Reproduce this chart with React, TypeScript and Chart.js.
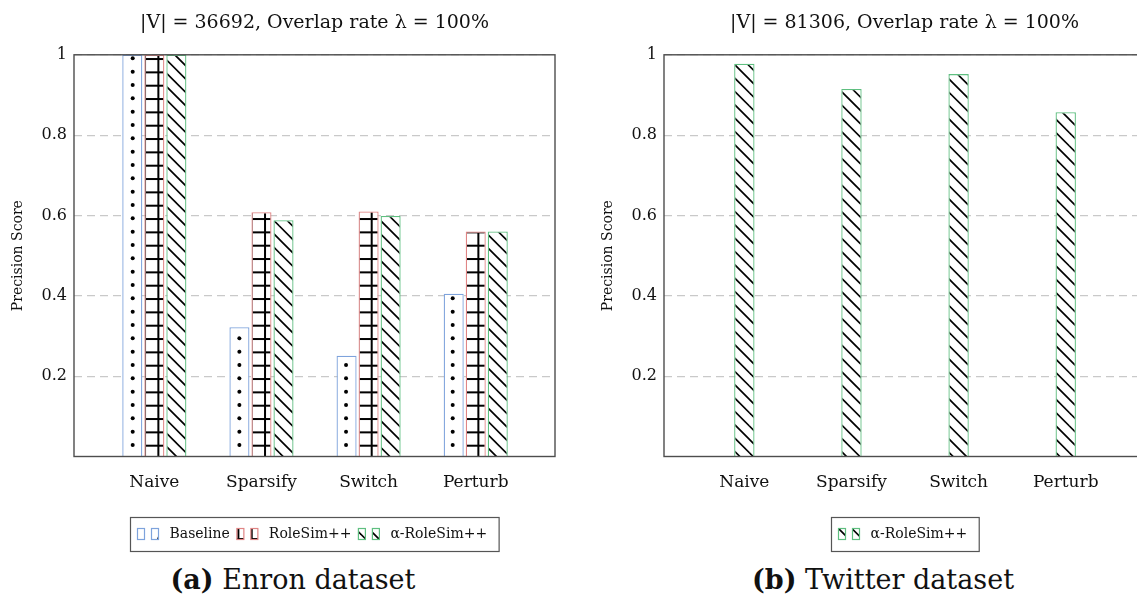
import React, { useEffect, useRef } from 'react';
import { Chart, registerables } from 'chart.js';

Chart.register(...registerables);

// ---------- data ----------
const categories = ['Naive', 'Sparsify', 'Switch', 'Perturb'];
const enronBaseline = [1.0, 0.322, 0.251, 0.405];
const enronRoleSim = [1.0, 0.608, 0.61, 0.56];
const enronAlphaRoleSim = [1.0, 0.588, 0.599, 0.56];
const twitterAlphaRoleSim = [0.978, 0.915, 0.952, 0.857];
const yTicks = [0.2, 0.4, 0.6, 0.8, 1];
const yTickLabels = ['0.2', '0.4', '0.6', '0.8', '1'];
const seriesNames = ['Baseline', 'RoleSim++', 'α-RoleSim++'];
const titleEnron = '|V| = 36692, Overlap rate λ = 100%';
const titleTwitter = '|V| = 81306, Overlap rate λ = 100%';
const yAxisTitle = 'Precision Score';
const captionEnron = ['(a)', ' Enron dataset'];
const captionTwitter = ['(b)', ' Twitter dataset'];

// ---------- styles ----------
const FONT = "'DejaVu Serif', serif";
const BLUE = '#7ea3dc';
const RED = '#e08585';
const GREEN = '#5fbf80';
const PERIOD = 40 / 3;

function makeTile(draw: (g: CanvasRenderingContext2D) => void) {
  const c = document.createElement('canvas');
  c.width = 40;
  c.height = 40;
  const g = c.getContext('2d') as CanvasRenderingContext2D;
  g.fillStyle = '#ffffff';
  g.fillRect(0, 0, 40, 40);
  draw(g);
  return c;
}

function dotsPattern(ctx: CanvasRenderingContext2D) {
  const tile = makeTile((g) => {
    g.fillStyle = '#000';
    for (let i = 0; i < 3; i++)
      for (let j = 0; j < 3; j++)
        for (const ox of [-40, 0, 40])
          for (const oy of [-40, 0, 40]) {
            g.beginPath();
            g.arc(12.7 + i * PERIOD + ox, 5 + j * PERIOD + oy, 2, 0, Math.PI * 2);
            g.fill();
          }
  });
  return ctx.createPattern(tile, 'repeat') as CanvasPattern;
}

function gridPattern(ctx: CanvasRenderingContext2D) {
  const tile = makeTile((g) => {
    g.fillStyle = '#000';
    for (let i = 0; i < 3; i++)
      for (const o of [-40, 0, 40]) {
        const x = 11.7 + i * PERIOD + o;
        g.fillRect(x - 1, 0, 2, 40);
        const y = 5.7 + i * PERIOD + o;
        g.fillRect(0, y - 1, 40, 2);
      }
  });
  return ctx.createPattern(tile, 'repeat') as CanvasPattern;
}

function diagPattern(ctx: CanvasRenderingContext2D) {
  const tile = makeTile((g) => {
    g.strokeStyle = '#000';
    g.lineWidth = 1.7;
    for (let k = -6; k <= 9; k++) {
      const x0 = k * PERIOD;
      g.beginPath();
      g.moveTo(x0 - 20, -20);
      g.lineTo(x0 + 60, 60);
      g.stroke();
    }
  });
  return ctx.createPattern(tile, 'repeat') as CanvasPattern;
}

// ---------- plugins ----------
const framePlugin = {
  id: 'frame',
  afterDatasetsDraw(chart: any) {
    const { ctx, chartArea: a } = chart;
    ctx.save();
    ctx.strokeStyle = '#4d4d4d';
    ctx.lineWidth = 1.4;
    ctx.strokeRect(a.left, a.top, a.right - a.left, a.bottom - a.top);
    ctx.restore();
  },
};

const boxLegendPlugin = {
  id: 'boxLegend',
  afterDraw(chart: any) {
    const { ctx, chartArea: a } = chart;
    const sw = 7, sh = 11, swGap = 7, textGap = 11, itemGap = 7, padL = 7, padR = 12;
    ctx.save();
    ctx.font = `14px ${FONT}`;
    const items = chart.data.datasets.map((ds: any) => ({ ds, w: ctx.measureText(ds.label).width }));
    const total =
      padL + padR +
      items.reduce((s: number, it: any) => s + sw * 2 + swGap + textGap + it.w, 0) +
      itemGap * (items.length - 1);
    const cx = (a.left + a.right) / 2;
    const bx = Math.round(cx - total / 2) + 0.5;
    const by = Math.round(a.bottom + 60) + 0.5;
    const bh = 34;
    ctx.fillStyle = '#fff';
    ctx.fillRect(bx, by, total, bh);
    ctx.strokeStyle = '#555';
    ctx.lineWidth = 1.2;
    ctx.strokeRect(bx, by, total, bh);
    let x = bx + padL;
    const sy = by + 11;
    items.forEach((it: any, idx: number) => {
      for (let k = 0; k < 2; k++) {
        const sx = x + k * (sw + swGap);
        ctx.fillStyle = it.ds.backgroundColor;
        ctx.fillRect(sx, sy, sw, sh);
        ctx.strokeStyle = it.ds.borderColor;
        ctx.lineWidth = 1.2;
        ctx.strokeRect(sx, sy, sw, sh);
      }
      x += sw * 2 + swGap + textGap;
      ctx.fillStyle = '#111';
      ctx.textBaseline = 'alphabetic';
      ctx.textAlign = 'left';
      ctx.fillText(it.ds.label, x, by + 20.5);
      x += it.w + (idx < items.length - 1 ? itemGap : 0);
    });
    ctx.restore();
  },
};

function makeConfig(datasets: any[], title: string) {
  return {
    type: 'bar',
    data: { datasets },
    plugins: [framePlugin, boxLegendPlugin],
    options: {
      responsive: false,
      animation: false,
      layout: { padding: { left: 0, right: 10, top: 0, bottom: 53.5 } },
      plugins: {
        legend: { display: false },
        tooltip: { enabled: false },
        title: {
          display: true,
          text: title,
          fullSize: false,
          color: '#111',
          font: { family: FONT, size: 19, weight: 'normal' },
          padding: { top: 12, bottom: 20 },
        },
      },
      scales: {
        x: {
          type: 'linear',
          offset: false,
          min: -0.75,
          max: 3.74,
          grid: { display: false, offset: false },
          border: { display: false },
          afterBuildTicks: (s: any) => {
            s.ticks = categories.map((_, i) => ({ value: i }));
          },
          afterFit: (s: any) => {
            s.height = 50;
          },
          ticks: {
            autoSkip: false,
            maxRotation: 0,
            padding: 8,
            color: '#111',
            font: { family: FONT, size: 17 },
            callback: (_v: any, i: number) => categories[i],
          },
        },
        y: {
          min: 0,
          max: 1,
          afterBuildTicks: (s: any) => {
            s.ticks = yTicks.map((v) => ({ value: v }));
          },
          afterFit: (s: any) => {
            s.width = 74;
          },
          grid: { color: '#c9c9c9', lineWidth: 1.2, drawTicks: false },
          border: { display: false, dash: [8, 5] },
          ticks: {
            padding: 7,
            color: '#111',
            font: { family: FONT, size: 16 },
            callback: (_v: any, i: number) => yTickLabels[i],
          },
          title: {
            display: true,
            text: yAxisTitle,
            color: '#111',
            font: { family: FONT, size: 14 },
            padding: { top: 10, bottom: 0 },
          },
        },
      },
    },
  };
}

const toPoints = (vals: number[]) => vals.map((v, i) => ({ x: i, y: v }));

export default function App() {
  const leftRef = useRef<HTMLCanvasElement>(null);
  const rightRef = useRef<HTMLCanvasElement>(null);

  useEffect(() => {
    const lc = leftRef.current as HTMLCanvasElement;
    const rc = rightRef.current as HTMLCanvasElement;
    const lctx = lc.getContext('2d') as CanvasRenderingContext2D;
    const rctx = rc.getContext('2d') as CanvasRenderingContext2D;

    const common = { borderWidth: 1.3, borderSkipped: 'start' };
    const left = new Chart(lc, makeConfig(
      [
        { label: seriesNames[0], data: toPoints(enronBaseline), backgroundColor: dotsPattern(lctx), borderColor: BLUE, categoryPercentage: 0.617, barPercentage: 0.91, ...common },
        { label: seriesNames[1], data: toPoints(enronRoleSim), backgroundColor: gridPattern(lctx), borderColor: RED, categoryPercentage: 0.617, barPercentage: 0.91, ...common },
        { label: seriesNames[2], data: toPoints(enronAlphaRoleSim), backgroundColor: diagPattern(lctx), borderColor: GREEN, categoryPercentage: 0.617, barPercentage: 0.91, ...common },
      ],
      titleEnron,
    ) as any);
    const right = new Chart(rc, makeConfig(
      [
        { label: seriesNames[2], data: toPoints(twitterAlphaRoleSim), backgroundColor: diagPattern(rctx), borderColor: GREEN, categoryPercentage: 0.2, barPercentage: 0.95, ...common },
      ],
      titleTwitter,
    ) as any);
    return () => {
      left.destroy();
      right.destroy();
    };
  }, []);

  const capStyle: React.CSSProperties = {
    position: 'absolute',
    top: 566,
    width: 400,
    textAlign: 'center',
    fontFamily: FONT,
    fontSize: 27,
    lineHeight: '27px',
    color: '#111',
    whiteSpace: 'nowrap',
  };

  return (
    <div style={{ position: 'fixed', left: 0, top: 0, width: 1137, height: 597, overflow: 'hidden', background: '#fff' }}>
      <canvas ref={leftRef} width={565} height={560} style={{ position: 'absolute', left: 0, top: 0 }} />
      <canvas ref={rightRef} width={565} height={560} style={{ position: 'absolute', left: 590, top: 0 }} />
      <div style={{ ...capStyle, left: 293 - 200 }}>
        <b>{captionEnron[0]}</b>{captionEnron[1]}
      </div>
      <div style={{ ...capStyle, left: 883 - 200 }}>
        <b>{captionTwitter[0]}</b>{captionTwitter[1]}
      </div>
    </div>
  );
}
